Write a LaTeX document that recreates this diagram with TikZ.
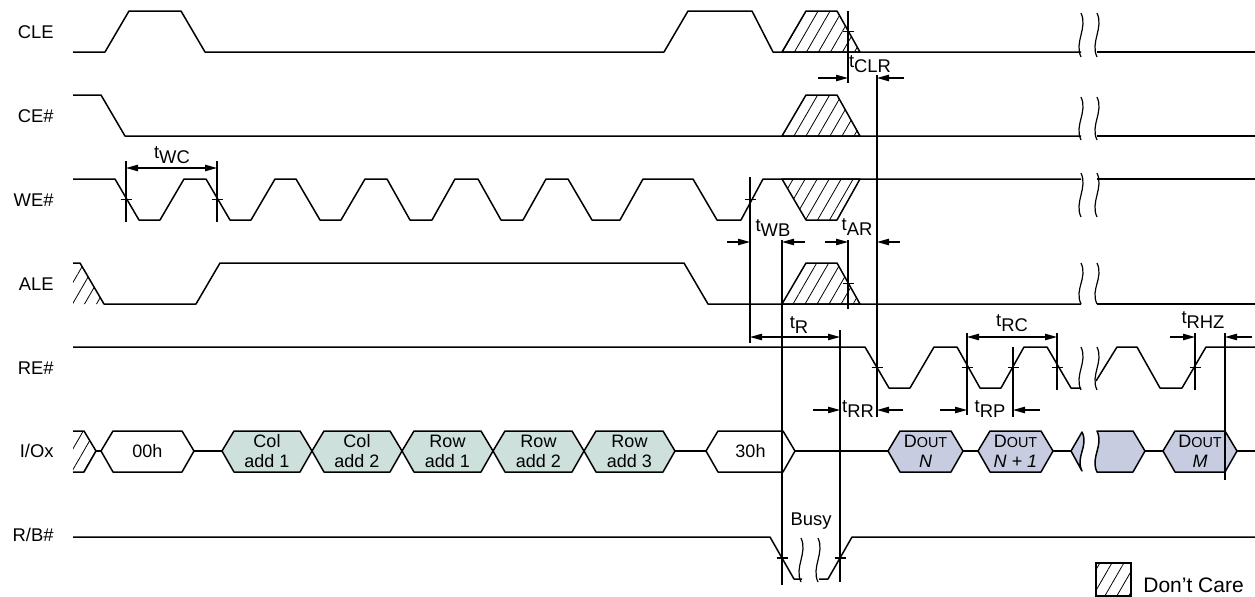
\documentclass[tikz,border=0pt]{standalone}
\usepackage{fontspec}
\setmainfont{Liberation Sans}
\usetikzlibrary{arrows.meta,patterns.meta}
\definecolor{addrfill}{RGB}{205,224,220}
\definecolor{datafill}{RGB}{200,204,225}
\newcommand{\tpar}[1]{t\raisebox{-0.5ex}{#1}}
\newcommand{\dout}{D{\fontsize{7.2}{8}\selectfont OUT}}
\begin{document}
\begin{tikzpicture}[x=0.5pt,y=-0.5pt,
    sig/.style={line width=0.75pt,line join=round},
    tline/.style={line width=0.6pt},
    dim/.style={line width=0.6pt,{Triangle[length=6pt,width=3.2pt]}-{Triangle[length=6pt,width=3.2pt]}},
    into/.style={line width=0.6pt,-{Triangle[length=6pt,width=3.2pt]}},
    hatch/.style={pattern={Lines[angle=60,distance=5.2pt,line width=0.4pt]}},
    dc/.style={sig,hatch},
    brk/.style={line width=0.6pt},
    lbl/.style={anchor=east,inner sep=0pt,font=\fontsize{9.2}{10}\selectfont},
    tlbl/.style={inner sep=0pt,font=\fontsize{9.2}{10}\selectfont},
    boxtxt/.style={align=center,inner sep=0pt,font=\fontsize{9}{10}\selectfont}]
  \useasboundingbox (0,0) rectangle (1255,596);
  \node[lbl] (cle) at (54,32) {CLE};
  \node[lbl] (ce) at (54,116) {CE\#};
  \node[lbl] (we) at (54,200) {WE\#};
  \node[lbl] (ale) at (54,284) {ALE};
  \node[lbl] (re) at (54,368) {RE\#};
  \node[lbl] (io) at (54,451) {I/Ox};
  \node[lbl] (rb) at (54,535) {R/B\#};
  \draw[dc] (782,52) -- (806,11) -- (837,11) -- (860,52) -- cycle;
  \draw[dc] (782,136) -- (806,95) -- (837,95) -- (860,136) -- cycle;
  \draw[dc] (782,179) -- (806,220) -- (837,220) -- (860,179) -- cycle;
  \draw[dc] (782,304) -- (806,263) -- (837,263) -- (860,304) -- cycle;
  \path[hatch] (73,263) -- (80,263) -- (104,304) -- (73,304) -- cycle;
  \path[hatch] (73,431) -- (84,431) -- (96,451) -- (84,472) -- (73,472) -- cycle;
  \draw[sig] (73,52) -- (105,52) -- (129,11) -- (181,11) -- (205,52) -- (664,52)
    -- (688,11) -- (752,11) -- (773,52) -- (1081,52);
  \draw[sig] (1097,52) -- (1255,52);
  \draw[sig] (73,95) -- (101,95) -- (125,136) -- (1081,136);
  \draw[sig] (1097,136) -- (1255,136);
  \draw[sig] (73,179) -- (115,179) -- (139,220) -- (160,220) -- (184,179) -- (206,179)
    -- (230,220) -- (251,220) -- (275,179) -- (296,179) -- (320,220) -- (341,220)
    -- (365,179) -- (387,179) -- (410,220) -- (432,220) -- (455,179) -- (478,179)
    -- (501,220) -- (523,220) -- (546,179) -- (568,179) -- (592,220) -- (620,220)
    -- (643,179) -- (693,179) -- (717,220) -- (741,220) -- (763,179) -- (1081,179);
  \draw[sig] (1097,179) -- (1255,179);
  \draw[sig] (73,263) -- (80,263) -- (104,304) -- (196,304) -- (220,263) -- (684,263)
    -- (708,304) -- (1081,304);
  \draw[sig] (1097,304) -- (1255,304);
  \draw[sig] (73,347) -- (865,347) -- (889,388) -- (910,388) -- (934,347) -- (957,347)
    -- (980,388) -- (1001,388) -- (1024,347) -- (1047,347) -- (1071,388) -- (1081,388);
  \draw[sig] (1096,381) -- (1117,347) -- (1137,347) -- (1160,388) -- (1182,388)
    -- (1206,347) -- (1255,347);
  \draw[sig] (73,431) -- (84,431) -- (96,451) -- (84,472) -- (73,472);
  \draw[sig] (96,451) -- (101,451) (194,451) -- (222,451) (675,451) -- (706,451)
    (795,451) -- (888,451) (963,451) -- (978,451) (1053,451) -- (1071,451)
    (1145,451) -- (1163,451) (1237,451) -- (1255,451);
  \foreach \l/\r/\fc/\nm/\tx in {
      101/194/white/cmdA/00h,
      222/312/addrfill/colA/{Col\\add 1},
      312/402/addrfill/colB/{Col\\add 2},
      402/493/addrfill/rowA/{Row\\add 1},
      493/584/addrfill/rowB/{Row\\add 2},
      584/675/addrfill/rowC/{Row\\add 3},
      706/795/white/cmdB/30h,
      888/963/datafill/doutN/{\dout\\\textit{N}},
      978/1053/datafill/doutNa/{\dout\\\textit{N + 1}},
      1163/1237/datafill/doutM/{\dout\\\textit{M}}} {
    \draw[sig,fill=\fc] (\l,451) -- (\l+12,431) -- (\r-12,431) -- (\r,451)
      -- (\r-12,472) -- (\l+12,472) -- cycle;
    \node[boxtxt] (\nm) at ({(\l+\r)/2},451) {\tx};
  }
  \draw[sig,fill=datafill] (1071,451) -- (1082,432)
    .. controls (1089,446) and (1075,457) .. (1082,471) -- cycle;
  \draw[sig,fill=datafill] (1097,431) -- (1133,431) -- (1145,451) -- (1133,472)
    -- (1097,472) .. controls (1090,457) and (1104,446) .. (1097,431) -- cycle;
  \draw[sig] (73,537) -- (770,537) -- (794,579) -- (802,579);
  \draw[sig] (819,579) -- (828,579) -- (852,537) -- (1255,537);
  \foreach \yt/\yb in {13/57, 97/140, 173/217, 263/304, 347/390}
    \foreach \xb in {1081,1097}
      \draw[brk] (\xb,\yt) .. controls (\xb+7,\yt+15) and (\xb-7,\yb-15) .. (\xb,\yb);
  \foreach \xb in {801,818}
    \draw[brk] (\xb,538) .. controls (\xb+7,553) and (\xb-7,567) .. (\xb,582);
  \begin{scope}[tline]
    \draw (126,161) -- (126,222);
    \draw (217,161) -- (217,222);
    \draw (848,11) -- (848,83);
    \draw (877,75) -- (877,417);
    \draw (750,177) -- (750,343);
    \draw (782,240) -- (782,585);
    \draw (848,240) -- (848,309);
    \draw (840,330) -- (840,582);
    \draw (967,333) -- (967,415);
    \draw (1013,347) -- (1013,417);
    \draw (1057,333) -- (1057,390);
    \draw (1195,333) -- (1195,390);
    \draw (1225,333) -- (1225,480);
    \foreach \x/\y in {126/199.5, 217/199.5, 848/31.5, 750/199.5, 848/283.5,
        877/367.5, 967/367.5, 1013/367.5, 1057/367.5, 1195/367.5, 782/558, 840/558}
      \draw (\x-5.5,\y) -- (\x+5.5,\y);
  \end{scope}
  \draw[dim] (126,168) -- (217,168);
  \node[tlbl] (twc) at (172,155) {\tpar{WC}};
  \draw[into] (818,78) -- (848,78);
  \draw[into] (904,78) -- (877,78);
  \node[tlbl] (tclr) at (870,64) {\tpar{CLR}};
  \draw[into] (727,242) -- (750,242);
  \draw[into] (805,242) -- (782,242);
  \node[tlbl] (twb) at (773,228) {\tpar{WB}};
  \draw[into] (825,242) -- (848,242);
  \draw[into] (900,242) -- (877,242);
  \node[tlbl] (tar) at (857,227) {\tpar{AR}};
  \draw[dim] (750,337) -- (840,337);
  \node[tlbl] (tr) at (799,325) {\tpar{R}};
  \draw[into] (813,410) -- (840,410);
  \draw[into] (903,410) -- (877,410);
  \node[tlbl] (trr) at (858,409) {\tpar{RR}};
  \draw[dim] (967,337) -- (1057,337);
  \node[tlbl] (trc) at (1012,323) {\tpar{RC}};
  \draw[into] (940,410) -- (967,410);
  \draw[into] (1040,410) -- (1013,410);
  \node[tlbl] (trp) at (990,409) {\tpar{RP}};
  \draw[into] (1170,337) -- (1195,337);
  \draw[into] (1252,337) -- (1225,337);
  \node[tlbl] (trhz) at (1203,320) {\tpar{RHZ}};
  \node[tlbl] (busy) at (811,521) {Busy};
  \draw[tline,hatch] (1096,563) rectangle (1131,596);
  \node[tlbl,anchor=west,font=\fontsize{10.5}{12}\selectfont] (dcare) at (1143,585) {Don't Care};
\end{tikzpicture}
\end{document}
